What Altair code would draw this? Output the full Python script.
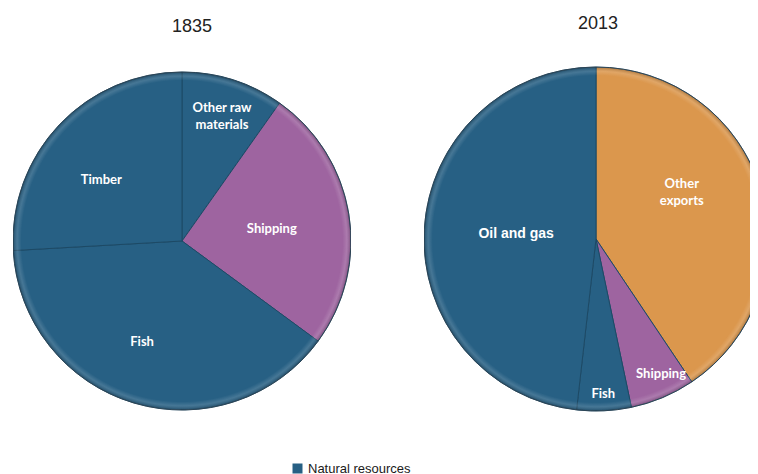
import altair as alt
import pandas as pd

legend_groups = ["Natural resources", "Shipping", "Other exports"]
group_colors = ["#276084", "#9E64A0", "#DB974D"]

years = ["1835", "2013"]

labels_1835 = ["Other raw\nmaterials", "Shipping", "Fish", "Timber"]
groups_1835 = ["Natural resources", "Shipping", "Natural resources", "Natural resources"]
shares_1835 = [9.8, 25.3, 39.0, 25.9]

labels_2013 = ["Other\nexports", "Shipping", "Fish", "Oil and gas"]
groups_2013 = ["Other exports", "Shipping", "Natural resources", "Natural resources"]
shares_2013 = [40.6, 6.1, 5.1, 48.2]


def frame(labels, groups, shares):
    return pd.DataFrame({"label": labels, "group": groups, "share": shares,
                         "idx": list(range(len(labels)))})


# label placement style per slice: (radius, dx, dy, font, size)
style_1835 = [(132, 0, -7, "Lato", 13), (91, 0, 3, "Lato", 13),
              (105, -10, 0, "Lato", 13), (100, -8, 8, "Lato", 13)]
style_2013 = [(98, -8, -26, "Lato", 13), (152, 6, -5, "Lato", 13),
              (155, 0, 0, "Lato", 13), (80, 0, 0, "Liberation Sans", 14)]

rim_gradient = alt.RadialGradient(
    gradient="radial", x1=0.5, y1=0.5, x2=0.5, y2=0.5, r1=0, r2=0.5,
    stops=[
        alt.GradientStop(color="rgba(255,255,255,0)", offset=0),
        alt.GradientStop(color="rgba(255,255,255,0)", offset=0.95),
        alt.GradientStop(color="rgba(255,255,255,0.14)", offset=0.975),
        alt.GradientStop(color="rgba(0,0,0,0.22)", offset=1),
    ],
)

legend = alt.Legend(orient="none", legendX=278, legendY=404, title=None,
                    symbolType="square", symbolSize=100, direction="vertical",
                    values=["Natural resources"],
                    labelFont="Liberation Sans", labelFontSize=13,
                    labelColor="#1a1a1a", symbolStrokeWidth=0)


def pie(df, year, width, height, radius, cx, cy, styles, title_dx, title_dy):
    base = alt.Chart(df).encode(
        theta=alt.Theta("share:Q", stack=True),
        order=alt.Order("idx:Q"),
        x=alt.value(cx),
        y=alt.value(cy),
    )
    arcs = base.mark_arc(radius=radius, stroke="#1d4a66", strokeWidth=1,
                         clip=True).encode(
        color=alt.Color("group:N",
                        scale=alt.Scale(domain=legend_groups, range=group_colors),
                        legend=legend)
    )
    rim = alt.Chart(df).mark_arc(
        radius=radius, fill=rim_gradient, stroke="#3a4650", strokeWidth=0.8,
        strokeOpacity=0.7, clip=True,
    ).encode(theta=alt.Theta("sum(share):Q"), x=alt.value(cx), y=alt.value(cy))
    texts = []
    for i, (r, dx, dy, font, size) in enumerate(styles):
        texts.append(
            base.mark_text(radius=r, dx=dx, dy=dy, font=font, fontSize=size,
                           fontWeight="bold", color="#ffffff", lineBreak="\n",
                           lineHeight=17, align="center", baseline="middle",
                           clip=True).encode(
                text=alt.condition(alt.datum.idx == i, alt.Text("label:N"),
                                   alt.value(""))
            )
        )
    return alt.layer(arcs, rim, *texts).properties(
        width=width, height=height,
        title=alt.TitleParams(year, dx=title_dx, dy=title_dy, fontSize=18,
                              font="Liberation Sans", fontWeight="normal",
                              color="#222222", offset=28, anchor="middle"),
    )


p1 = pie(frame(labels_1835, groups_1835, shares_1835), years[0], 338, 356, 169,
         169, 183, style_1835, 10, 6)
p2 = pie(frame(labels_2013, groups_2013, shares_2013), years[1], 326, 356, 172,
         172, 181, style_2013, 11, 3)

chart = alt.hconcat(p1, p2, spacing=73).properties(
    padding={"left": 5, "top": 7, "right": 0, "bottom": 0}
).configure_view(stroke=None)

chart.save("out.html", embed_options={"renderer": "svg", "actions": False})
